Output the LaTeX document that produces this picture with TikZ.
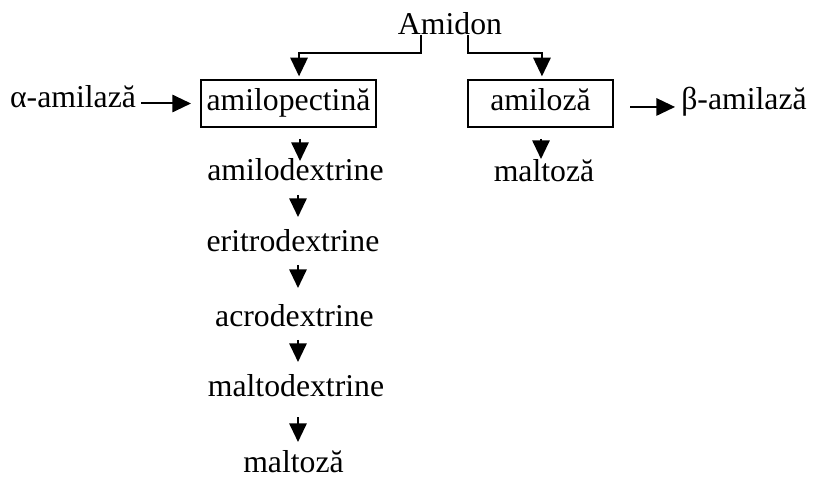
\documentclass[tikz,border=0pt]{standalone}
\usepackage{fontspec}
\setmainfont{Liberation Serif}
\usetikzlibrary{arrows.meta}
\begin{document}
\begin{tikzpicture}[x=0.75pt,y=-0.75pt,
  lbl/.style={font=\fontsize{23.8}{28}\selectfont, inner sep=0pt, anchor=base},
  boxn/.style={draw, line width=1.5pt, inner sep=0pt, font=\fontsize{23.8}{28}\selectfont,
    text height=16.6pt, text depth=5.9pt, minimum height=35.25pt},
  arr/.style={line width=1.5pt, -{Triangle[length=14pt,width=13pt]}}
]
\useasboundingbox (0,0) rectangle (814,477);
% nodes
\node[lbl] (amidon) at (450,35) {Amidon};
\node[boxn, minimum width=131.25pt] (apect) at (288.5,103.5) {amilopectină};
\node[boxn, minimum width=108.75pt] (amil) at (540.5,103.5) {amiloză};
\node[lbl] (alpha) at (73,108) {α-amilază};
\node[lbl] (beta) at (744,110) {β-amilază};
\node[lbl] (amilod) at (295.5,181) {amilodextrine};
\node[lbl] (eritro) at (293,252) {eritrodextrine};
\node[lbl] (acro) at (294.5,326) {acrodextrine};
\node[lbl] (malto) at (296,397) {maltodextrine};
\node[lbl] (maltoza) at (293.5,472) {maltoză};
\node[lbl] (maltozb) at (544,182) {maltoză};
\coordinate (ax) at (298,0);
\coordinate (bs) at ([shift={(12pt,-2.6pt)}]amil.east);
% connectors from Amidon
\draw[arr, shorten >=2pt] ([xshift=-21.75pt]amidon.base) -- ++(0,18) -| ([xshift=7.9pt]apect.north);
\draw[arr, shorten >=2pt] ([xshift=13.5pt]amidon.base) -- ++(0,18) -| ([xshift=1.1pt]amil.north);
% enzymes
\draw[arr] ([xshift=3.75pt]alpha.east |- apect.west) -- ([xshift=-6.75pt]apect.west);
\draw[arr] (bs) -- ([xshift=-4.5pt]beta.west |- bs);
% chain
\draw[arr] (apect.south -| 300,0) ++(0,11) -- ++(0,22);
\draw[arr] (amilod.base -| ax) ++(0,14) -- ++(0,22);
\draw[arr] (eritro.base -| ax) ++(0,13) -- ++(0,23);
\draw[arr] (acro.base -| ax) ++(0,14) -- ++(0,22);
\draw[arr] (malto.base -| ax) ++(0,20) -- ++(0,25);
\draw[arr] (amil.south -| 541,0) ++(0,11) -- ++(0,20);
\end{tikzpicture}
\end{document}
